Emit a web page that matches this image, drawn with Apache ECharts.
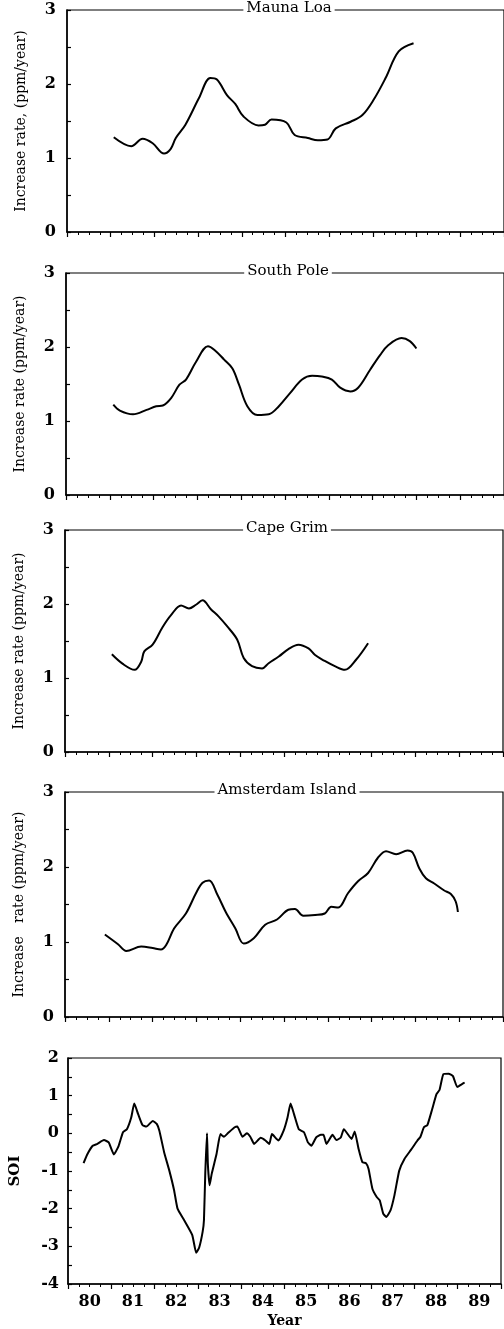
<!DOCTYPE html>
<html><head><meta charset="utf-8">
<script src="https://cdn.jsdelivr.net/npm/echarts@6/dist/echarts.min.js"></script>
<style>html,body{margin:0;padding:0;background:#fff}#c{width:504px;height:1329px}</style>
</head><body><div id="c"></div>
<script>
var yearLabels = ['80','81','82','83','84','85','86','87','88','89'];
var panelTitles = ['Mauna Loa','South Pole','Cape Grim','Amsterdam Island',''];
var yNames = ['Increase rate, (ppm/year)','Increase rate (ppm/year)','Increase rate (ppm/year)','Increase   rate (ppm/year)','SOI'];

var maunaLoa = [[1981.07,1.28],[1981.47,1.16],[1981.73,1.26],[1981.96,1.20],[1982.22,1.06],[1982.37,1.12],[1982.49,1.27],[1982.71,1.45],[1983.02,1.81],[1983.28,2.08],[1983.43,2.06],[1983.66,1.85],[1983.85,1.73],[1984.04,1.56],[1984.38,1.44],[1984.53,1.45],[1984.68,1.52],[1985.02,1.48],[1985.21,1.31],[1985.51,1.27],[1985.74,1.24],[1985.96,1.25],[1986.15,1.40],[1986.49,1.49],[1986.76,1.58],[1987.02,1.79],[1987.29,2.08],[1987.59,2.44],[1987.93,2.55]];
var southPole = [[1981.08,1.22],[1981.23,1.14],[1981.53,1.09],[1981.84,1.15],[1982.06,1.20],[1982.21,1.21],[1982.40,1.31],[1982.59,1.49],[1982.74,1.56],[1982.97,1.80],[1983.24,2.01],[1983.39,1.96],[1983.61,1.83],[1983.80,1.71],[1983.95,1.49],[1984.14,1.20],[1984.37,1.08],[1984.63,1.09],[1984.86,1.20],[1985.12,1.38],[1985.39,1.56],[1985.62,1.61],[1985.84,1.60],[1986.07,1.56],[1986.26,1.45],[1986.49,1.40],[1986.67,1.45],[1986.94,1.69],[1987.17,1.89],[1987.35,2.02],[1987.66,2.12],[1987.85,2.08],[1988.00,1.98]];
var capeGrim = [[1981.07,1.32],[1981.32,1.19],[1981.59,1.11],[1981.74,1.22],[1981.81,1.36],[1982.00,1.45],[1982.23,1.69],[1982.42,1.85],[1982.65,1.98],[1982.83,1.94],[1982.99,1.99],[1983.14,2.05],[1983.33,1.93],[1983.51,1.83],[1983.70,1.70],[1983.93,1.52],[1984.08,1.27],[1984.27,1.16],[1984.50,1.13],[1984.65,1.20],[1984.88,1.29],[1985.10,1.39],[1985.33,1.45],[1985.56,1.40],[1985.71,1.31],[1985.93,1.23],[1986.16,1.16],[1986.39,1.11],[1986.65,1.25],[1986.92,1.47]];
var amsterdam = [[1980.91,1.10],[1981.21,0.97],[1981.40,0.88],[1981.74,0.94],[1982.00,0.92],[1982.19,0.90],[1982.31,0.96],[1982.49,1.18],[1982.76,1.38],[1982.99,1.65],[1983.14,1.79],[1983.29,1.82],[1983.48,1.63],[1983.67,1.40],[1983.89,1.18],[1984.08,0.98],[1984.31,1.05],[1984.57,1.23],[1984.84,1.30],[1985.10,1.43],[1985.25,1.44],[1985.44,1.35],[1985.71,1.36],[1985.93,1.38],[1986.08,1.47],[1986.24,1.46],[1986.46,1.65],[1986.69,1.81],[1986.92,1.92],[1987.14,2.12],[1987.33,2.21],[1987.56,2.17],[1987.82,2.22],[1987.94,2.19],[1988.09,1.98],[1988.24,1.85],[1988.43,1.78],[1988.65,1.69],[1988.81,1.64],[1988.92,1.54],[1988.97,1.40]];
var soi = [[1980.36,-0.79],[1980.45,-0.55],[1980.57,-0.33],[1980.68,-0.28],[1980.83,-0.18],[1980.94,-0.24],[1981.06,-0.56],[1981.17,-0.33],[1981.27,0.03],[1981.36,0.11],[1981.46,0.42],[1981.53,0.79],[1981.62,0.51],[1981.72,0.22],[1981.81,0.18],[1981.96,0.33],[1982.05,0.25],[1982.11,0.07],[1982.22,-0.50],[1982.34,-0.99],[1982.45,-1.51],[1982.53,-2.00],[1982.68,-2.30],[1982.87,-2.70],[1982.96,-3.17],[1983.03,-3.03],[1983.11,-2.61],[1983.14,-2.30],[1983.17,-1.07],[1983.21,0.00],[1983.23,-0.81],[1983.27,-1.38],[1983.32,-1.07],[1983.43,-0.55],[1983.52,-0.02],[1983.60,-0.09],[1983.69,0.00],[1983.85,0.16],[1983.91,0.18],[1984.03,-0.09],[1984.13,0.00],[1984.21,-0.09],[1984.30,-0.28],[1984.45,-0.12],[1984.56,-0.19],[1984.65,-0.28],[1984.71,-0.02],[1984.86,-0.19],[1984.98,0.07],[1985.07,0.42],[1985.14,0.79],[1985.22,0.51],[1985.33,0.11],[1985.45,0.03],[1985.54,-0.24],[1985.62,-0.33],[1985.73,-0.11],[1985.84,-0.04],[1985.90,-0.04],[1985.97,-0.28],[1986.11,-0.04],[1986.20,-0.18],[1986.30,-0.11],[1986.37,0.11],[1986.55,-0.15],[1986.62,0.05],[1986.71,-0.41],[1986.80,-0.77],[1986.88,-0.79],[1986.94,-0.94],[1987.03,-1.47],[1987.13,-1.69],[1987.20,-1.78],[1987.28,-2.13],[1987.35,-2.22],[1987.45,-2.04],[1987.54,-1.64],[1987.65,-0.99],[1987.77,-0.68],[1987.92,-0.44],[1988.07,-0.19],[1988.14,-0.09],[1988.22,0.16],[1988.30,0.22],[1988.41,0.64],[1988.51,1.04],[1988.58,1.15],[1988.67,1.57],[1988.79,1.58],[1988.89,1.52],[1988.99,1.23],[1989.09,1.30],[1989.16,1.35]];

var seriesData = [maunaLoa, southPole, capeGrim, amsterdam, soi];
var yMin = [0,0,0,0,-4], yMax = [3,3,3,3,2];

var layout = [
  {left:67, top:10, height:222},
  {left:66, top:273, height:222},
  {left:65, top:530, height:222},
  {left:65, top:792, height:225},
  {left:63, top:1058, height:227}
];
var serif = '"DejaVu Serif", "Liberation Serif", serif';
var grids = [], xAxes = [], yAxes = [], series = [], titles = [];
layout.forEach(function (g, i) {
  var width = 438;
  grids.push({left:g.left, top:g.top, width:width, height:g.height, show:true, borderColor:'#000', borderWidth:1.2, backgroundColor:'transparent'});
  xAxes.push({type:'value', gridIndex:i, min:1980, max:1990, interval:1,
    axisLine:{onZero:false, lineStyle:{color:'#000', width:1.5}},
    axisTick:{show:true, length:5, lineStyle:{color:'#000', width:1.2}},
    minorTick:{show:true, splitNumber:4, length:3, lineStyle:{color:'#000', width:1}},
    axisLabel:{show:false}, splitLine:{show:false}});
  yAxes.push({type:'value', gridIndex:i, min:yMin[i], max:yMax[i], interval:0.5,
    name:yNames[i], nameLocation:'middle', nameGap:(i===4?45:39),
    nameTextStyle:{fontFamily:serif, fontSize:(i===4?15:14), fontWeight:(i===4?'bold':'normal'), color:'#000'},
    axisLine:{onZero:false, lineStyle:{color:'#000', width:1.5}},
    axisTick:{show:true, inside:true, length:4, lineStyle:{color:'#000', width:1.2}},
    axisLabel:{margin:(i===4?9:11), fontFamily:serif, fontSize:16, fontWeight:'bold', color:'#000',
      formatter:function (v) { return Math.abs(v - Math.round(v)) < 1e-6 ? String(Math.round(v)) : ''; }},
    splitLine:{show:false}});
  series.push({type:'line', xAxisIndex:i, yAxisIndex:i, data:seriesData[i], showSymbol:false, symbol:'none',
    smooth:(i===4?0.15:0.35), lineStyle:{color:'#000', width:2}, z:3});
  if (panelTitles[i]) {
    titles.push({text:panelTitles[i], left:g.left + width/2, top:g.top - 9, textAlign:'center',
      backgroundColor:'#fff', padding:[0,3],
      textStyle:{fontFamily:serif, fontSize:15, fontWeight:'normal', color:'#000'}});
  }
});
xAxes.push({type:'category', gridIndex:4, data:yearLabels, boundaryGap:true, position:'bottom',
  axisLine:{show:false}, axisTick:{show:false}, splitLine:{show:false},
  axisLabel:{margin:10, fontFamily:serif, fontSize:16, fontWeight:'bold', color:'#000'},
  name:'Year', nameLocation:'middle', nameGap:30,
  nameTextStyle:{fontFamily:serif, fontSize:14, fontWeight:'bold', color:'#000'}});

var chart = echarts.init(document.getElementById('c'), null, {renderer:'canvas'});
chart.setOption({animation:false, backgroundColor:'#fff', title:titles, grid:grids, xAxis:xAxes, yAxis:yAxes, series:series});
</script></body></html>
